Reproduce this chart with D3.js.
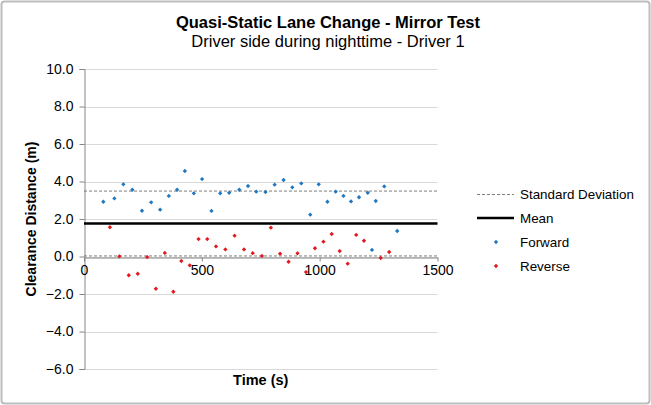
<!DOCTYPE html>
<html>
<head>
<meta charset="utf-8">
<script src="https://cdn.jsdelivr.net/npm/d3@7"></script>
<style>
  body { margin: 0; background: #fff; }
  svg { font-family: "Liberation Sans", Arial, sans-serif; }
</style>
</head>
<body>
<div class="chart_wrapper"></div>
<script>
// data
const forwardTime = [82, 129, 167, 205, 246, 285, 323, 360, 395, 428, 466, 501, 541, 578, 616, 659, 696, 731, 770, 809, 847, 884, 922, 960, 996, 1033, 1068, 1101, 1133, 1167, 1204, 1222, 1238, 1274, 1329]
const forwardClear = [2.92, 3.10, 3.85, 3.56, 2.44, 2.89, 2.50, 3.23, 3.56, 4.56, 3.37, 4.13, 2.43, 3.37, 3.40, 3.56, 3.76, 3.46, 3.44, 3.83, 4.08, 3.69, 3.90, 2.23, 3.85, 2.92, 3.46, 3.23, 2.94, 3.16, 3.40, 0.35, 2.96, 3.74, 1.36]
const reverseTime = [110, 150, 190, 228, 268, 305, 343, 379, 413, 449, 486, 523, 560, 600, 639, 679, 716, 755, 793, 832, 868, 906, 942, 980, 1016, 1051, 1085, 1119, 1155, 1188, 1259, 1295]
const reverseClear = [1.56, 0.01, -1.00, -0.92, -0.03, -1.72, 0.19, -1.88, -0.24, -0.47, 0.93, 0.93, 0.54, 0.38, 1.11, 0.38, 0.18, 0.03, 1.54, 0.15, -0.28, 0.17, -0.83, 0.44, 0.79, 1.20, 0.29, -0.38, 1.15, 0.84, -0.08, 0.24]
const meanValue = 1.76
const sdBounds = [0.03, 3.49]
const xTicks = [0, 500, 1000, 1500]
const yTicks = [-6, -4, -2, 0, 2, 4, 6, 8, 10]
const legendItems = ['Standard Deviation', 'Mean', 'Forward', 'Reverse']

const width = 651
const height = 405
const margin = { left: 84, right: 214, top: 69, bottom: 36 }
const blue = '#1f78c1'
const red = '#e3191e'

const svg = d3.select('.chart_wrapper')
    .append('svg')
    .attr('width', width)
    .attr('height', height)

// outer frame
svg.append('rect')
    .attr('x', 1.5).attr('y', 1.5)
    .attr('width', width - 3).attr('height', height - 3)
    .attr('rx', 3)
    .attr('fill', '#fff')
    .attr('stroke', '#bdbdbd')
    .attr('stroke-width', 2)

const x = d3.scaleLinear().domain([0, 1500]).range([margin.left, width - margin.right + 0.5])
const y = d3.scaleLinear().domain([-6, 10]).range([height - margin.bottom, margin.top])

// gridlines
svg.append('g')
    .selectAll('line')
    .data(yTicks)
    .join('line')
    .attr('x1', x(0)).attr('x2', x(1500))
    .attr('y1', d => Math.round(y(d)) + 0.5).attr('y2', d => Math.round(y(d)) + 0.5)
    .attr('stroke', '#d9d9d9')
    .attr('stroke-width', 1)

// y axis on the left
const yAxis = svg.append('g')
    .attr('transform', `translate(${x(0) + 0.5},0)`)
    .call(d3.axisLeft(y).tickValues(yTicks).tickSize(5).tickPadding(6).tickFormat(d3.format('.1f')))
yAxis.select('.domain').attr('stroke', '#868686')
yAxis.selectAll('.tick line').attr('stroke', '#868686')
yAxis.selectAll('text').attr('font-size', 14).attr('fill', '#000').attr('font-family', null)

// x axis crosses at zero
const xAxis = svg.append('g')
    .attr('transform', `translate(0,${Math.round(y(0)) + 0.5})`)
    .call(d3.axisBottom(x).tickValues(xTicks).tickSize(4).tickSizeOuter(0).tickPadding(4).tickFormat(d3.format('d')))
xAxis.select('.domain').attr('stroke', '#868686')
xAxis.selectAll('.tick line').attr('stroke', '#868686')
xAxis.selectAll('text').attr('font-size', 14).attr('fill', '#000').attr('font-family', null)

// standard deviation + mean lines
svg.append('g')
    .selectAll('line')
    .data(sdBounds)
    .join('line')
    .attr('x1', x(0)).attr('x2', x(1500))
    .attr('y1', d => y(d)).attr('y2', d => y(d))
    .attr('stroke', '#7f7f7f')
    .attr('stroke-width', 1)
    .attr('stroke-dasharray', '3,2')

svg.append('line')
    .attr('x1', x(0)).attr('x2', x(1500))
    .attr('y1', y(meanValue)).attr('y2', y(meanValue))
    .attr('stroke', '#000')
    .attr('stroke-width', 2.5)

const diamond = d3.symbol().type(d3.symbolDiamond2).size(12)

svg.append('g')
    .selectAll('path')
    .data(d3.zip(forwardTime, forwardClear))
    .join('path')
    .attr('d', diamond)
    .attr('transform', d => `translate(${x(d[0])},${y(d[1])})`)
    .attr('fill', blue)

svg.append('g')
    .selectAll('path')
    .data(d3.zip(reverseTime, reverseClear))
    .join('path')
    .attr('d', diamond)
    .attr('transform', d => `translate(${x(d[0])},${y(d[1])})`)
    .attr('fill', red)

// titles
const cx = (x(0) + x(1500)) / 2
svg.append('text')
    .attr('x', 328).attr('y', 28)
    .attr('text-anchor', 'middle')
    .attr('font-size', 16.5).attr('font-weight', 'bold')
    .text('Quasi-Static Lane Change - Mirror Test')
svg.append('text')
    .attr('x', 328).attr('y', 47)
    .attr('text-anchor', 'middle')
    .attr('font-size', 16.5)
    .text('Driver side during nighttime - Driver 1')

svg.append('text')
    .attr('x', cx).attr('y', 385)
    .attr('text-anchor', 'middle')
    .attr('font-size', 14.5).attr('font-weight', 'bold')
    .text('Time (s)')

svg.append('text')
    .attr('transform', `translate(36,${y(2)}) rotate(-90)`)
    .attr('text-anchor', 'middle')
    .attr('font-size', 14).attr('font-weight', 'bold')
    .text('Clearance Distance (m)')

// legend
const legend = svg.append('g').attr('transform', 'translate(477,194)')
const row = legend.selectAll('g')
    .data(legendItems)
    .join('g')
    .attr('transform', (d, i) => `translate(0,${i * 24})`)

row.append('text')
    .attr('x', 43).attr('y', 5)
    .attr('font-size', 13.4)
    .text(d => d)

row.filter((d, i) => i === 0).append('line')
    .attr('x1', 0).attr('x2', 37).attr('y1', 0.5).attr('y2', 0.5)
    .attr('stroke', '#7f7f7f').attr('stroke-dasharray', '3,2')
row.filter((d, i) => i === 1).append('line')
    .attr('x1', 0).attr('x2', 37).attr('y1', 0).attr('y2', 0)
    .attr('stroke', '#000').attr('stroke-width', 2.5)
row.filter((d, i) => i >= 2).append('path')
    .attr('d', diamond)
    .attr('transform', 'translate(19,0)')
    .attr('fill', (d, i) => i === 0 ? blue : red)
</script>
</body>
</html>
